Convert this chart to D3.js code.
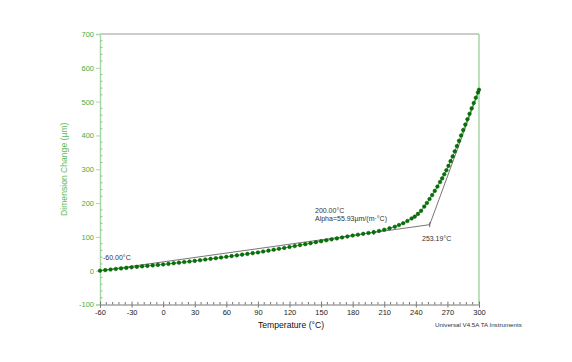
<!DOCTYPE html>
<html>
<head>
<meta charset="utf-8">
<script src="https://cdn.jsdelivr.net/npm/d3@7"></script>
<style>
  html, body { margin: 0; padding: 0; background: #fff; }
  svg { display: block; font-family: "Liberation Sans", Arial, sans-serif; }
</style>
</head>
<body>
<svg id="chart" width="572" height="362"></svg>
<script>
// ---- data ----
const temps = [-60,-55,-50,-45,-40,-35,-30,-25,-20,-15,-10,-5,0,5,10,15,20,25,30,35,40,45,50,55,60,65,70,75,80,85,90,95,100,105,110,115,120,125,130,135,140,145,150,155,160,165,170,175,180,185,190,195,200,205,210,215,220,
  224,228,232,236,239,242,245,248,250.5,253,255.5,258,260.5,263,265,267,269,271,273,275,277,279,281,283,285,287,289,291,293,295,297,299,300];
const dims = [0,1.7,3.3,5,6.7,8.3,10,11.4,12.8,14.2,15.7,17.1,18.5,20.2,22,23.7,25.5,27.2,29,31,33,35,37,39,41,43.2,45.3,47.5,49.7,51.8,54,56.7,59.3,62,64.7,67.3,70,72.8,75.7,78.5,81.3,84.2,87,89.8,92.7,95.5,98.3,101.2,104,106.5,109,111.5,114,117.5,121,125.5,130,
  135,140.5,147,154.5,160,168,177,189.6,200.3,211.8,223.5,236,248.7,262.2,273,285,297,310,324,338,353,368.4,384,400,416,432,448,464,480,496,511.6,527.2,535];

const xTicks = [-60,-30,0,30,60,90,120,150,180,210,240,270,300];
const yTicks = [-100,0,100,200,300,400,500,600,700];

// annotation (analysis) lines
const fitLowT = [-60, 253.19];
const fitLowV = [0, 136.1];
const fitHighT = [253.19, 300];
const fitHighV = [136.1, 533];
const markT = [200, 253.19];
const markV = [113, 136.1];

const xTitle = "Temperature (°C)";
const yTitle = "Dimension Change (µm)";
const footer = "Universal V4.5A TA Instruments";
const labelStart = "-60.00°C";
const labelMid1 = "200.00°C";
const labelMid2 = "Alpha=55.93µm/(m·°C)";
const labelKnee = "253.19°C";

// ---- drawing ----
const svg = d3.select("#chart");
const x = d3.scaleLinear().domain([-60, 300]).range([100, 479]);
const y = d3.scaleLinear().domain([-100, 700]).range([304.5, 34]);

const axisGreen = "#a6d9a6";
const labelGreen = "#3fae3f";
const fmt = d => String(d);

// frame: top gray, right green
svg.append("line").attr("x1", x(-60)).attr("x2", x(300)).attr("y1", y(700)).attr("y2", y(700))
  .attr("stroke", "#9a9a9a").attr("stroke-width", 1.2);
svg.append("line").attr("x1", x(300)).attr("x2", x(300)).attr("y1", y(700)).attr("y2", y(-100))
  .attr("stroke", axisGreen).attr("stroke-width", 1.5);

// Y axis
const yAxis = d3.axisLeft(y).tickValues(yTicks).tickSize(4).tickPadding(2).tickFormat(fmt);
const gy = svg.append("g").attr("transform", `translate(${x(-60)},0)`).call(yAxis);
gy.select(".domain").attr("stroke", axisGreen).attr("stroke-width", 1.5);
gy.selectAll(".tick line").attr("stroke", axisGreen);
gy.selectAll(".tick text").attr("fill", labelGreen).style("font-size", "7.5px").style("font-family", "Liberation Sans, Arial, sans-serif");
// y minor ticks (inside)
const yMinor = d3.range(-100, 700, 20).filter(v => v % 100 !== 0);
svg.append("g").selectAll("line").data(yMinor).join("line")
  .attr("x1", x(-60)).attr("x2", x(-60) + 2.5).attr("y1", d => y(d)).attr("y2", d => y(d))
  .attr("stroke", "#8fc98f").attr("stroke-width", 1);

// X axis
const xAxis = d3.axisBottom(x).tickValues(xTicks).tickSize(3).tickPadding(2).tickFormat(fmt);
const gx = svg.append("g").attr("transform", `translate(0,${y(-100)})`).call(xAxis);
gx.select(".domain").attr("stroke", "#777").attr("stroke-width", 1);
gx.selectAll(".tick line").attr("stroke", "#777");
gx.selectAll(".tick text").attr("fill", "#222").style("font-size", "7.5px").style("font-family", "Liberation Sans, Arial, sans-serif");
const xMinor = d3.range(-60, 300, 6).filter(v => (v + 60) % 30 !== 0);
svg.append("g").selectAll("line").data(xMinor).join("line")
  .attr("x1", d => x(d)).attr("x2", d => x(d)).attr("y1", y(-100)).attr("y2", y(-100) - 2.5)
  .attr("stroke", "#777").attr("stroke-width", 1);
gx.selectAll(".tick").each(function(d){
  d3.select(this).append("line").attr("y1", 0).attr("y2", -3).attr("stroke", "#777");
});

// titles
svg.append("text").attr("x", 291).attr("y", 328).attr("text-anchor", "middle")
  .style("font-size", "8.6px").attr("fill", "#111").text(xTitle);
svg.append("text").attr("transform", `translate(67,${y(300)}) rotate(-90)`).attr("text-anchor", "middle")
  .style("font-size", "8.6px").attr("fill", "#5bbb5b").text(yTitle);
svg.append("text").attr("x", 435).attr("y", 327).style("font-size", "6.2px").attr("fill", "#333").text(footer);

// analysis lines
const pts = (ts, vs) => ts.map((t, i) => [x(t), y(vs[i])]);
const line = d3.line();
svg.append("path").attr("d", line(pts(fitLowT, fitLowV))).attr("fill", "none").attr("stroke", "#666").attr("stroke-width", 0.9);
svg.append("path").attr("d", line(pts(fitHighT, fitHighV))).attr("fill", "none").attr("stroke", "#666").attr("stroke-width", 0.9);
svg.append("g").selectAll("line").data(markT).join("line")
  .attr("x1", d => x(d)).attr("x2", d => x(d))
  .attr("y1", (d, i) => y(markV[i]) - 2.5).attr("y2", (d, i) => y(markV[i]) + 2.5)
  .attr("stroke", "#555").attr("stroke-width", 0.9);

// data curve
const data = temps.map((t, i) => [x(t), y(dims[i])]);
svg.append("path").attr("d", d3.line()(data)).attr("fill", "none").attr("stroke", "#4aa84a").attr("stroke-width", 1);
svg.append("g").selectAll("circle").data(data).join("circle")
  .attr("cx", d => d[0]).attr("cy", d => d[1]).attr("r", 1.8)
  .attr("fill", "#007800").attr("stroke", "#004a00").attr("stroke-width", 0.5);

// annotation labels
svg.append("text").attr("x", x(-60) + 3).attr("y", y(32)).style("font-size", "7px").attr("fill", "#333").text(labelStart);
svg.append("text").attr("x", 315).attr("y", 213).style("font-size", "7px").attr("fill", "#333").text(labelMid1);
svg.append("text").attr("x", 315).attr("y", 221).style("font-size", "7px").attr("fill", "#333").text(labelMid2);
svg.append("text").attr("x", 422).attr("y", 241).style("font-size", "7px").attr("fill", "#333").text(labelKnee);
</script>
</body>
</html>
